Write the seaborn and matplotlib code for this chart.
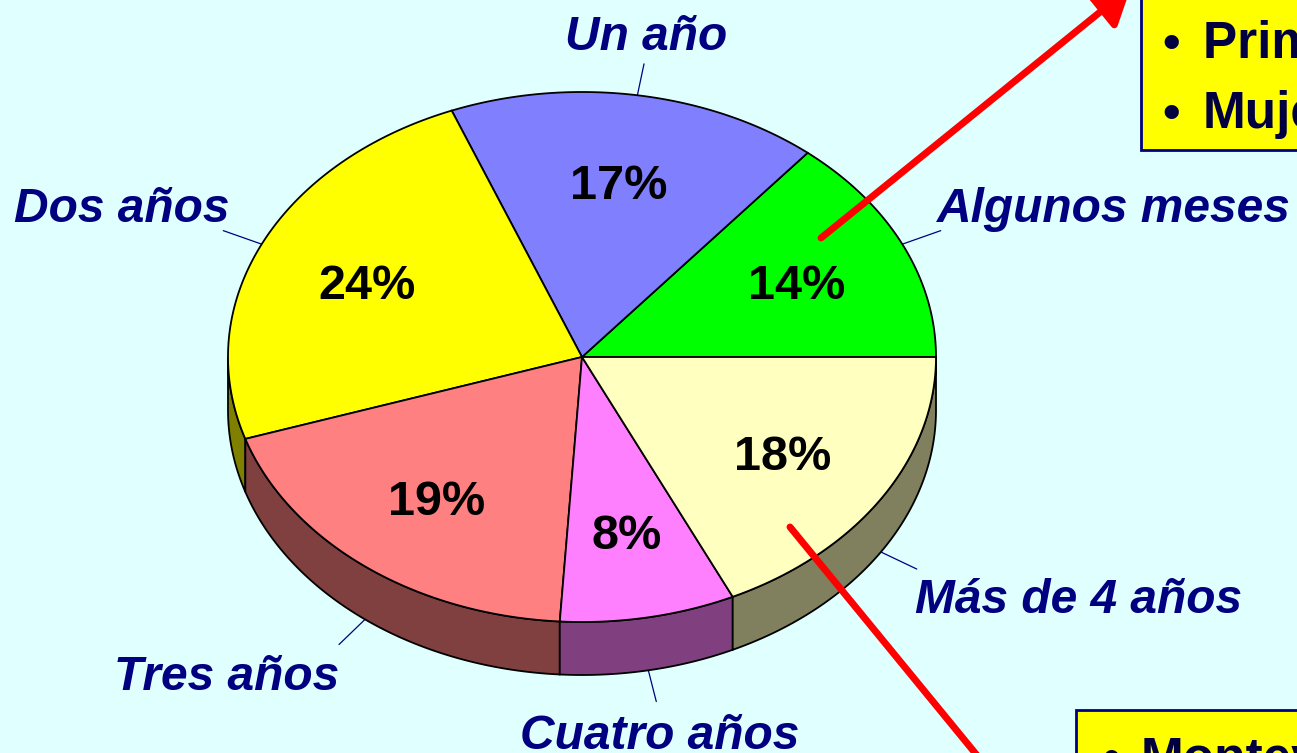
import numpy as np
import matplotlib.pyplot as plt
import seaborn as sns
from matplotlib.patches import Polygon, Rectangle

# Data: share of respondents by time span
categories = ['Algunos meses', 'Un año', 'Dos años', 'Tres años', 'Cuatro años', 'Más de 4 años']
shares = [14, 17, 24, 19, 8, 18]

top_colors = ['#00FF00', '#8080FF', '#FFFF00', '#FF8080', '#FF80FF', '#FFFFBF']
side_colors = ['#008000', '#404080', '#808000', '#804040', '#804080', '#80805F']

box_top_lines = ['Primer empleo', 'Mujeres']
box_bottom_lines = ['Montevideo']

sns.set_theme(style='white')
plt.rcParams['font.family'] = ['Liberation Sans', 'DejaVu Sans']

fig = plt.figure(figsize=(12.97, 7.53), dpi=100)
fig.patch.set_facecolor('#E0FFFF')
ax = fig.add_axes([0, 0, 1, 1])
ax.set_facecolor('#E0FFFF')
ax.set_xlim(0, 1297)
ax.set_ylim(753, 0)
ax.axis('off')

# ellipse geometry of the tilted pie (pixel units)
cx, cy, rx, ry, depth = 582, 357, 354, 265, 53


def ell(t, r=1.0, dz=0.0):
    return cx + r * rx * np.cos(t), cy - r * ry * np.sin(t) + dz


bounds = np.concatenate([[0], np.cumsum(shares)]) / sum(shares) * 2 * np.pi

# side walls (only the front half is visible)
for i in range(len(shares)):
    lo = max(bounds[i], np.pi)
    hi = min(bounds[i + 1], 2 * np.pi)
    if hi <= lo:
        continue
    t = np.linspace(lo, hi, 120)
    xt, yt = ell(t)
    xb, yb = ell(t[::-1], dz=depth)
    pts = np.column_stack([np.concatenate([xt, xb]), np.concatenate([yt, yb])])
    ax.add_patch(Polygon(pts, closed=True, facecolor=side_colors[i],
                         edgecolor='black', lw=1.3, zorder=2))

# top faces
for i in range(len(shares)):
    t = np.linspace(bounds[i], bounds[i + 1], 200)
    xs, ys = ell(t)
    pts = np.column_stack([np.concatenate([[cx], xs]), np.concatenate([[cy], ys])])
    ax.add_patch(Polygon(pts, closed=True, facecolor=top_colors[i],
                         edgecolor='black', lw=1.3, zorder=3))

# percentages and leader lines
mids = (bounds[:-1] + bounds[1:]) / 2
for i, m in enumerate(mids):
    px, py = ell(m, 0.67)
    ax.text(px, py, f'{shares[i]}%', ha='center', va='center_baseline',
            fontsize=35, fontweight='bold', color='black', zorder=5)
    dz = depth if np.sin(m) < 0 else 0
    x0, y0 = ell(m, 1.0, dz)
    x1, y1 = ell(m, 1.12, dz)
    ax.plot([x0, x1], [y0, y1], color='#000080', lw=0.9, zorder=1)

label_style = dict(fontsize=34.5, fontweight='bold', fontstyle='italic', color='#000080')
label_pos = {
    'Algunos meses': (937, 222, 'left'),
    'Un año': (646, 50, 'center'),
    'Dos años': (229, 222, 'right'),
    'Tres años': (339, 690, 'right'),
    'Cuatro años': (660, 749, 'center'),
    'Más de 4 años': (915, 613, 'left'),
}
for name in categories:
    x, y, ha = label_pos[name]
    ax.text(x, y, name, ha=ha, va='baseline', zorder=5, **label_style)

# red arrows to the callout boxes
head = '-|>,head_length=0.32,head_width=0.2'
ax.annotate('', xy=(1131, -13), xytext=(821, 238), annotation_clip=False,
            arrowprops=dict(arrowstyle=head, color='red', lw=5,
                            mutation_scale=68, shrinkA=0, shrinkB=0), zorder=6)
ax.annotate('', xy=(1030, 820), xytext=(790, 527), annotation_clip=False,
            arrowprops=dict(arrowstyle=head, color='red', lw=5,
                            mutation_scale=68, shrinkA=0, shrinkB=0), zorder=6)

# callout boxes (cut by the picture edge)
ax.add_patch(Rectangle((1141, -20), 400, 170, facecolor='#FFFF00',
                       edgecolor='#000080', lw=2, zorder=7, clip_on=False))
for k, line in enumerate(box_top_lines):
    ax.text(1162, 58 + 70 * k, '•', fontsize=36, fontweight='bold',
            color='#000040', va='baseline', zorder=8)
    ax.text(1203, 58 + 70 * k, line, fontsize=37, fontweight='bold',
            color='#000040', va='baseline', zorder=8)

ax.add_patch(Rectangle((1076, 710), 400, 150, facecolor='#FFFF00',
                       edgecolor='#000080', lw=2, zorder=7, clip_on=False))
for line in box_bottom_lines:
    ax.text(1102, 773, '•', fontsize=36, fontweight='bold',
            color='#000040', va='baseline', zorder=8)
    ax.text(1141, 773, line, fontsize=37, fontweight='bold',
            color='#000040', va='baseline', zorder=8)

fig.savefig('out.png', dpi=100, facecolor=fig.get_facecolor())
